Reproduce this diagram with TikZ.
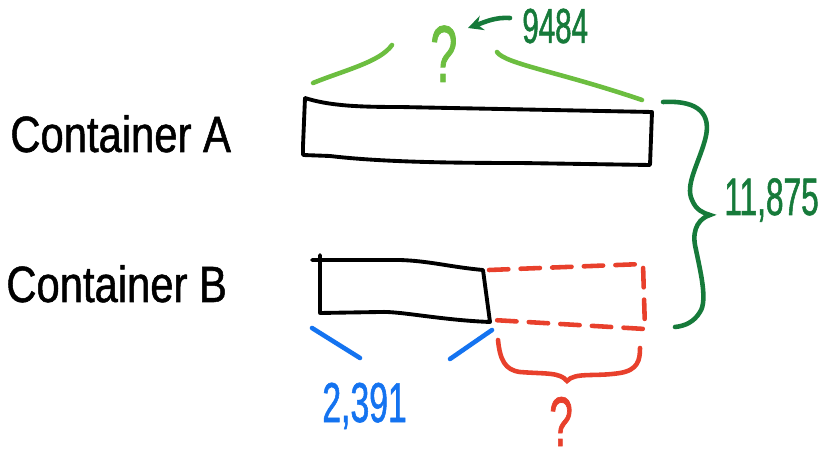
\documentclass[tikz,border=0pt]{standalone}
\usepackage{fontspec}
\setmainfont{Liberation Sans}
\newfontfamily\handfont[FakeStretch=0.82, FakeBold=1]{Liberation Sans}
\newfontfamily\numfont[FakeStretch=0.6, FakeBold=1]{Liberation Sans}
\usetikzlibrary{arrows.meta}
\definecolor{greenlight}{RGB}{108,190,64}
\definecolor{greendark}{RGB}{22,122,58}
\definecolor{markred}{RGB}{232,64,44}
\definecolor{markblue}{RGB}{20,115,240}

\begin{document}
\begin{tikzpicture}[
    x=0.02cm, y=-0.02cm,
    pen/.style={
        line width=2.2pt,
        line cap=round,
        line join=round
    },
    marker/.style={
        line width=2.6pt,
        line cap=round
    },
    handtext/.style={
        font=\handfont\fontsize{29}{29}\selectfont,
        inner sep=0pt
    },
    numtext/.style={
        font=\numfont\fontsize{28}{28}\selectfont,
        inner sep=0pt
    },
    arrow/.style={
        -{Stealth[length=3mm, width=3mm]},
        marker,
        draw=greendark
    }
]
\useasboundingbox (0,0) rectangle (822,459);

% =================== Labels ===================
\node[handtext, anchor=base west] (contA) at (10,152) {Container A};
\node[handtext, anchor=base west] (contB) at (6,302) {Container B};

% =================== Container A ===================
\draw[pen]
    (305,98) .. controls (330,106) and (360,107) .. (400,107)
    -- (652,112) -- (650,165)
    -- (520,163) .. controls (450,163) and (380,162) .. (330,156)
    -- (303,155) -- (303,146) -- (305,98);

% top brace (light green) with question mark
\draw[marker, greenlight]
    (313,83) .. controls (345,70) and (380,62) .. (392,45);
\draw[marker, greenlight]
    (497,52) .. controls (505,64) and (560,72) .. (642,100);
\node[numtext, greenlight, anchor=base west, font=\numfont\fontsize{46}{46}\selectfont] (qA) at (430,82) {?};

% given value with arrow
\node[numtext, greendark, anchor=base west] (valA) at (522,43) {9484};
\coordinate (arrowtail) at (510,18);
\coordinate (arrowhead) at (468,28);
\draw[arrow] (arrowtail) .. controls (495,17) and (485,22) .. (arrowhead);

% =================== Container B ===================
\draw[pen]
    (312,260) -- (400,260) .. controls (430,261) and (450,267) .. (483,270)
    -- (490,322) .. controls (440,320) and (400,311) .. (380,312)
    -- (320,313) -- (320,255);

% missing part (dashed red)
\draw[marker, markred, dash pattern=on 11pt off 7pt, line join=round]
    (489,270) -- (643,264) -- (645,329) -- (493,320);

% bottom braces
\draw[marker, markblue] (312,328) -- (360,358);
\draw[marker, markblue] (450,359) -- (492,330);
\node[numtext, markblue, anchor=base west, font=\numfont\fontsize{32}{32}\selectfont] (valB) at (322,422) {2,391};

\draw[marker, markred]
    (498,340) .. controls (500,360) and (505,370) .. (520,372)
    .. controls (545,374) and (560,372) .. (567,381)
    .. controls (575,372) and (595,377) .. (620,373)
    .. controls (638,370) and (640,360) .. (640,348);
\node[numtext, markred, anchor=base west, font=\numfont\fontsize{40}{40}\selectfont] (qB) at (549,446) {?};

% =================== Total ===================
\draw[marker, greendark]
    (663,102) .. controls (700,100) and (712,115) .. (705,140)
    .. controls (698,165) and (685,185) .. (692,200)
    .. controls (696,210) and (703,213) .. (710,215)
    .. controls (700,218) and (692,228) .. (695,245)
    .. controls (700,270) and (708,300) .. (700,312)
    .. controls (694,322) and (685,326) .. (675,327);
\node[numtext, greendark, anchor=base west, font=\numfont\fontsize{30}{30}\selectfont] (total) at (724,215) {11,875};

\end{tikzpicture}
\end{document}
